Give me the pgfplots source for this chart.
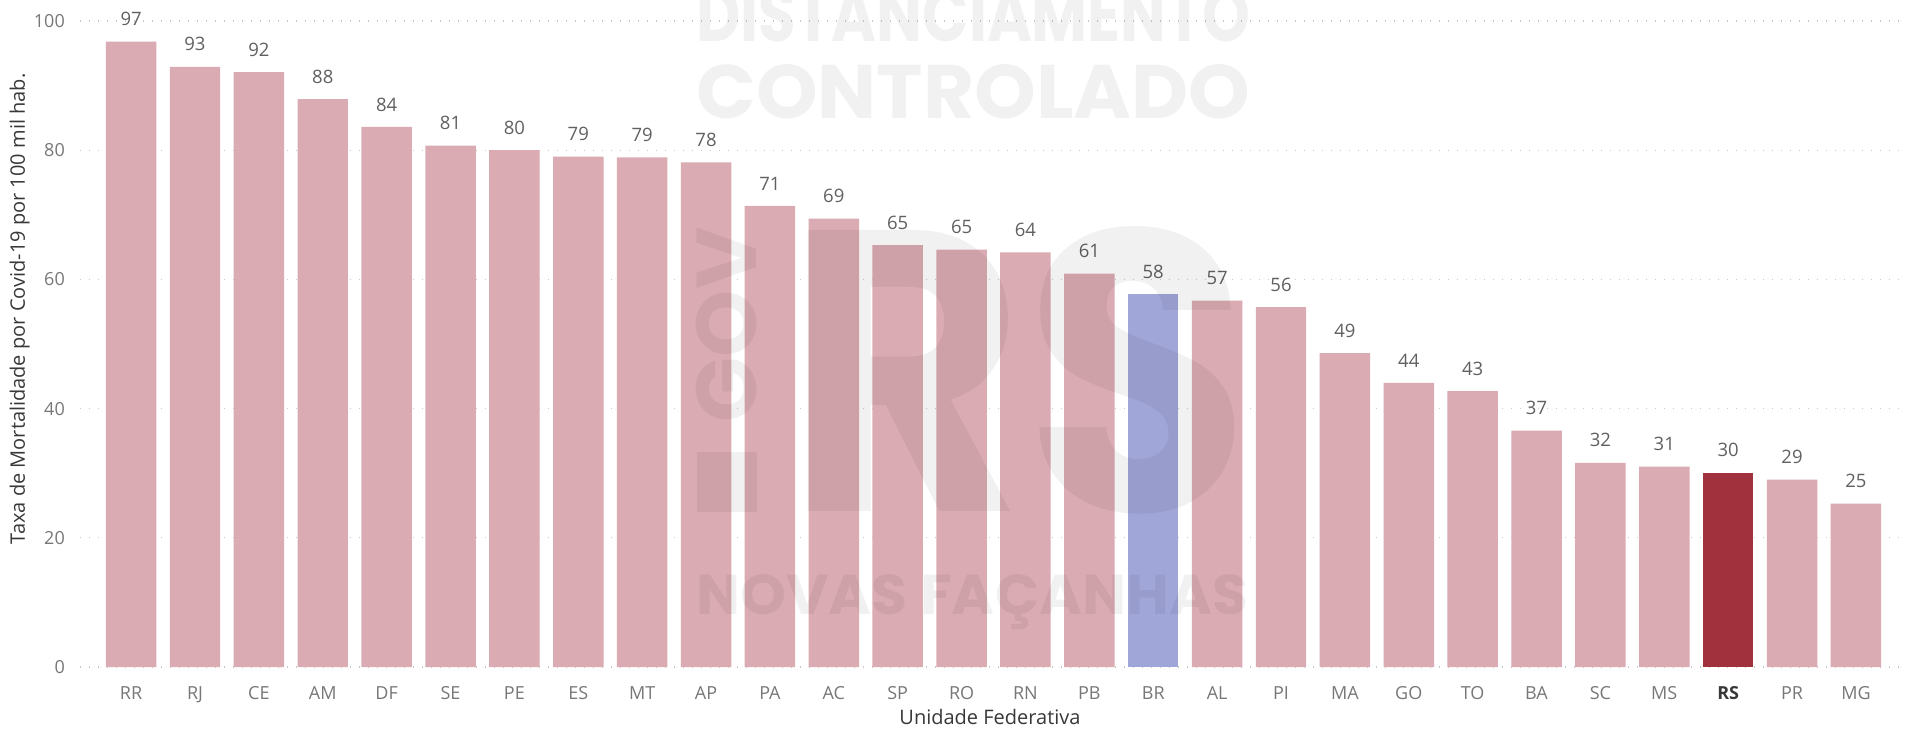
\documentclass[border=0pt]{standalone}
\usepackage{pgfplots}
\pgfplotsset{compat=1.18}
\usepackage{fontspec}
\usepackage{graphicx}
\setmainfont{Open Sans}
\newfontfamily\wmfont{Poppins}
\definecolor{barpink}{RGB}{218,171,178}
\definecolor{barblue}{RGB}{160,166,216}
\definecolor{barred}{RGB}{161,49,61}
\definecolor{tickgray}{RGB}{119,119,119}
\definecolor{labgray}{RGB}{96,96,96}
\definecolor{titlegray}{RGB}{56,56,56}
\definecolor{gridgray}{RGB}{200,200,200}
\begin{document}
\begin{tikzpicture}[x=1pt,y=1pt]
\useasboundingbox (0,0) rectangle (1915,729);
\begin{axis}[
  at={(80pt,62pt)}, anchor=south west,
  width=1820pt, height=646pt, scale only axis,
  xmin=-0.8, xmax=27.69, ymin=0, ymax=100,
  clip=false,
  axis line style={draw=none},
  major tick length=0pt,
  ytick={0,20,...,100},
  xtick={0,...,27},
  xticklabels={RR,RJ,CE,AM,DF,SE,PE,ES,MT,AP,PA,AC,SP,RO,RN,PB,BR,AL,PI,MA,GO,TO,BA,SC,MS,{\textcolor{titlegray}{\bfseries RS}},PR,MG},
  ymajorgrids,
  grid style={draw=gridgray, line width=1.3pt, dash pattern=on 1.3pt off 7.7pt},
  /pgf/number format/assume math mode=true,
  tick label style={font=\fontsize{18}{20}\selectfont, text=tickgray},
  yticklabel style={anchor=east, inner sep=0pt, xshift=-15pt},
  xticklabel style={anchor=base, inner sep=0pt, yshift=-32pt},
  nodes near coords={\pgfmathprintnumber[fixed,precision=0,assume math mode=true]{\pgfplotspointmeta}},
  every node near coord/.append style={anchor=south, inner sep=0pt, yshift=15.5pt, font=\fontsize{18.5}{20}\selectfont, text=labgray},
]
\addplot[ybar, bar width=0.79, bar shift=0pt, fill=barpink, draw=none] coordinates {
(0,96.8) (1,92.9) (2,92.1) (3,87.9) (4,83.6) (5,80.7) (6,80.0) (7,79.0) (8,78.9) (9,78.1)
(10,71.4) (11,69.4) (12,65.3) (13,64.6) (14,64.2) (15,60.9) (17,56.7) (18,55.7) (19,48.6)
(20,44.0) (21,42.7) (22,36.6) (23,31.6) (24,31.0) (26,29.0) (27,25.3)
};
\addplot[ybar, bar width=0.79, bar shift=0pt, fill=barblue, draw=none] coordinates {(16,57.7)};
\addplot[ybar, bar width=0.79, bar shift=0pt, fill=barred, draw=none] coordinates {(25,30.1)};
\end{axis}
% watermark
\begin{scope}
\clip (0,0) rectangle (1915,729);
\node[anchor=base west, inner sep=0pt, opacity=0.055, text=black] at (696,687) {\resizebox{554pt}{54pt}{\wmfont\bfseries DISTANCIAMENTO}};
\node[anchor=base west, inner sep=0pt, opacity=0.055, text=black] at (696,610) {\resizebox{554pt}{54pt}{\wmfont\bfseries CONTROLADO}};
\node[anchor=base west, inner sep=0pt, opacity=0.055, text=black] at (696,114) {\resizebox{552pt}{40pt}{\wmfont\bfseries NOVAS FAÇANHAS}};
\node[anchor=base west, inner sep=0pt, opacity=0.055, text=black] at (785,217) {\resizebox{465pt}{284pt}{\wmfont\bfseries RS}};
\node[anchor=south west, inner sep=0pt, opacity=0.055, text=black] at (696,217) {\resizebox{61pt}{284pt}{\rotatebox{90}{\wmfont\bfseries\rule{0.7em}{0.7em}\hspace{0.35em}GOV}}};
\end{scope}
\node[rotate=90, anchor=base, inner sep=0pt, text=titlegray, font=\fontsize{20}{22}\selectfont] at (25,420) {Taxa de Mortalidade por Covid-19 por 100 mil hab.};
\node[anchor=base, inner sep=0pt, text=titlegray, font=\fontsize{20}{22}\selectfont] at (990,5) {Unidade Federativa};
\end{tikzpicture}
\end{document}
